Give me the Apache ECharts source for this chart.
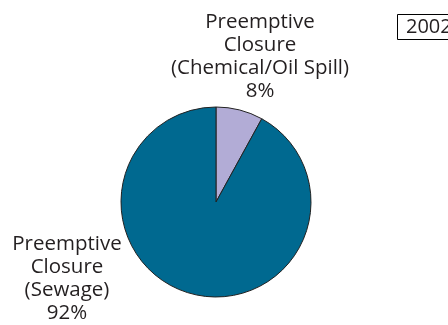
<!DOCTYPE html>
<html><head><meta charset="utf-8">
<script src="https://cdn.jsdelivr.net/npm/echarts@6/dist/echarts.min.js"></script>
<style>html,body{margin:0;padding:0;background:#fff}#c{width:448px;height:325px}</style>
</head><body><div id="c"></div>
<script>
const categories = ['Preemptive\nClosure\n(Chemical/Oil Spill)', 'Preemptive\nClosure\n(Sewage)'];
const values = [8, 92];
const colors = ['#b2acd6', '#006990'];
const yearLabel = '2002';

const chart = echarts.init(document.getElementById('c'));
const labelPos = [[260, 57], [67, 279]];
chart.setOption({
  animation: false,
  title: {
    text: yearLabel, left: 397, top: 14,
    borderColor: '#000', borderWidth: 1, padding: [3, 9, 3, 9],
    textStyle: {fontFamily: 'Open Sans', fontSize: 20, fontWeight: 'normal', color: '#231f20'}
  },
  series: [{
    type: 'pie',
    center: [216, 202],
    radius: 95,
    startAngle: 90,
    clockwise: true,
    data: categories.map((n, i) => ({name: n, value: values[i], itemStyle: {color: colors[i]}})),
    itemStyle: {borderColor: '#222', borderWidth: 1},
    label: {
      show: true,
      formatter: p => p.name + '\n' + p.value + '%',
      fontFamily: 'Open Sans', fontSize: 20.5, lineHeight: 23, color: '#231f20', align: 'center',
      overflow: 'none', width: 300
    },
    labelLine: {show: false},
    labelLayout: p => ({x: labelPos[p.dataIndex][0], y: labelPos[p.dataIndex][1], align: 'center', verticalAlign: 'middle'}),
    emphasis: {disabled: true}
  }]
});
</script></body></html>
